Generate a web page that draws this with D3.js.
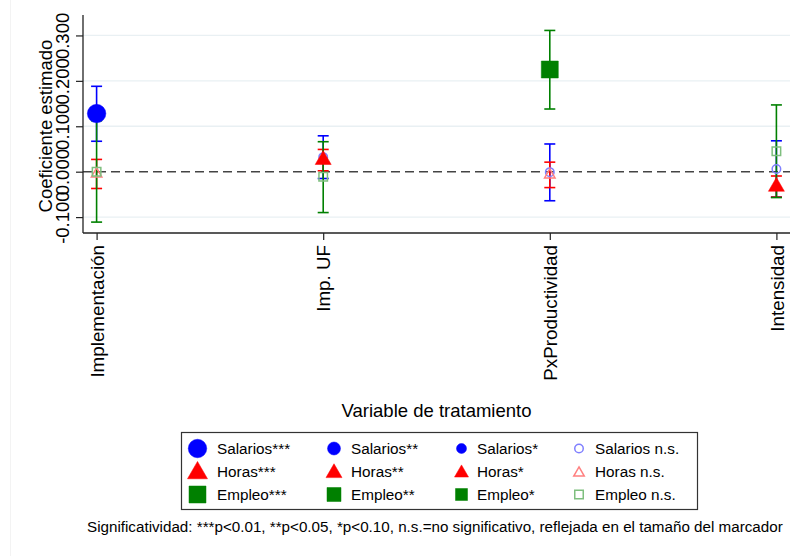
<!DOCTYPE html>
<html>
<head>
<meta charset="utf-8">
<script src="https://cdn.jsdelivr.net/npm/d3@7"></script>
<style>
  html, body { margin: 0; padding: 0; background: #fff; }
  svg { display: block; }
  text { font-family: "Liberation Sans", Arial, Helvetica, sans-serif; fill: #000; }
</style>
</head>
<body>
<svg id="chart" width="796" height="556"></svg>
<script>
// ---- data ----
const categories = ["Implementación", "Imp. UF", "PxProductividad", "Intensidad"];
const yTicks = [-0.1, 0.0, 0.1, 0.2, 0.3];
const yTickLabels = ["-0.100", "0.000", "0.100", "0.200", "0.300"];

const salariosCoef = [0.128, 0.032, -0.001, 0.006];
const salariosLo   = [0.067, -0.015, -0.064, -0.056];
const salariosHi   = [0.188, 0.079, 0.061, 0.068];
const salariosSig  = ["***", "n.s.", "n.s.", "n.s."];

const horasCoef = [-0.005, 0.026, -0.007, -0.033];
const horasLo   = [-0.037, 0.002, -0.035, -0.056];
const horasHi   = [0.027, 0.049, 0.021, -0.0095];
const horasSig  = ["n.s.", "**", "n.s.", "**"];

const empleoCoef = [0.000, -0.011, 0.225, 0.045];
const empleoLo   = [-0.111, -0.090, 0.138, -0.057];
const empleoHi   = [0.112, 0.066, 0.311, 0.147];
const empleoSig  = ["n.s.", "n.s.", "***", "n.s."];

const sigLevels = ["***", "**", "*", "n.s."];
const seriesNames = ["Salarios", "Horas", "Empleo"];
const xTitle = "Variable de tratamiento";
const yTitle = "Coeficiente estimado";
const note = "Significatividad: ***p<0.01, **p<0.05, *p<0.10, n.s.=no significativo, reflejada en el tamaño del marcador";

// ---- styles ----
const colors = { Salarios: "#0000ff", Horas: "#ff0000", Empleo: "#008000" };
const lightColors = { Salarios: "#8080ff", Horas: "#ff8080", Empleo: "#7fbf7f" };
const shapes = { Salarios: "circle", Horas: "triangle", Empleo: "square" };
const sizeBySig = {
  circle:   { "***": 18.5, "**": 13, "*": 10, "n.s.": 10 },
  triangle: { "***": 20, "**": 16, "*": 14, "n.s.": 12 },
  square:   { "***": 17, "**": 14, "*": 12, "n.s.": 10 }
};

const series = [
  { name: "Salarios", coef: salariosCoef, lo: salariosLo, hi: salariosHi, sig: salariosSig },
  { name: "Horas",    coef: horasCoef,    lo: horasLo,    hi: horasHi,    sig: horasSig },
  { name: "Empleo",   coef: empleoCoef,   lo: empleoLo,   hi: empleoHi,   sig: empleoSig }
];

const svg = d3.select("#chart");

svg.append("line").attr("x1", 10.5).attr("x2", 10.5).attr("y1", 0).attr("y2", 556)
  .attr("stroke", "#f3f3f3").attr("stroke-width", 1);

const plot = { left: 83, right: 790, top: 15, bottom: 233 };
const x = d3.scaleLinear().domain([0.94, 4.06]).range([plot.left, plot.right]);
const y = d3.scaleLinear().domain([-0.135, 0.345]).range([plot.bottom, plot.top]);

// gridlines
svg.append("g").selectAll("line").data(yTicks.filter(v => v !== 0)).join("line")
  .attr("x1", plot.left).attr("x2", plot.right)
  .attr("y1", d => y(d)).attr("y2", d => y(d))
  .attr("stroke", "#e9f0f3").attr("stroke-width", 1.3);

// zero reference line
svg.append("line")
  .attr("x1", plot.left).attr("x2", plot.right)
  .attr("y1", y(0)).attr("y2", y(0))
  .attr("stroke", "#444").attr("stroke-width", 1.4)
  .attr("stroke-dasharray", "9,5");

// Y axis
const yAxis = svg.append("g").attr("transform", `translate(${plot.left},0)`)
  .call(d3.axisLeft(y).tickValues(yTicks).tickSize(7).tickFormat((d, i) => yTickLabels[i]));
yAxis.select(".domain").attr("d", `M0,${plot.top}V${plot.bottom}`).attr("stroke", "#222").attr("stroke-width", 1.3);
yAxis.selectAll(".tick line").attr("stroke", "#222").attr("stroke-width", 1.2);
yAxis.selectAll(".tick text")
  .attr("x", null).attr("dy", null)
  .attr("transform", "translate(-14.5,0) rotate(-90)")
  .attr("text-anchor", "middle")
  .style("font-size", "18.5px")
  .attr("fill", "#000");
yAxis.attr("font-family", null).attr("font-size", null);

// X axis
const xAxis = svg.append("g").attr("transform", `translate(0,${plot.bottom})`)
  .call(d3.axisBottom(x).tickValues([1, 2, 3, 4]).tickSize(7).tickFormat(d => categories[d - 1]));
xAxis.select(".domain").attr("d", `M${plot.left},0H${plot.right}`).attr("stroke", "#222").attr("stroke-width", 1.3);
xAxis.selectAll(".tick line").attr("stroke", "#222").attr("stroke-width", 1.2);
xAxis.selectAll(".tick text")
  .attr("y", null).attr("dy", null)
  .attr("transform", "translate(6.6,12) rotate(-90)")
  .attr("text-anchor", "end")
  .style("font-size", "18.8px")
  .attr("fill", "#000");
xAxis.attr("font-family", null).attr("font-size", null);

// axis titles
svg.append("text").attr("transform", "translate(52,126) rotate(-90)")
  .attr("text-anchor", "middle").style("font-size", "18.5px").text(yTitle);
svg.append("text").attr("x", (plot.left + plot.right) / 2).attr("y", 417)
  .attr("text-anchor", "middle").style("font-size", "18.5px").text(xTitle);

function markerPath(shape, w) {
  if (shape === "circle") {
    const r = w / 2;
    return `M${-r},0A${r},${r} 0 1,0 ${r},0A${r},${r} 0 1,0 ${-r},0Z`;
  }
  if (shape === "square") {
    const h = w / 2;
    return `M${-h},${-h}H${h}V${h}H${-h}Z`;
  }
  const hgt = w * Math.sqrt(3) / 2;
  return `M0,${-2 * hgt / 3}L${w / 2},${hgt / 3}L${-w / 2},${hgt / 3}Z`;
}
function drawMarker(g, shape, sig, color, light, cx, cy) {
  const w = sizeBySig[shape][sig];
  const ns = sig === "n.s.";
  g.append("path")
    .attr("transform", `translate(${cx},${cy})`)
    .attr("d", markerPath(shape, ns ? w - 1.5 : w))
    .attr("fill", ns ? "none" : color)
    .attr("stroke", ns ? light : color)
    .attr("stroke-width", ns ? 1.5 : 0.5);
}

// confidence intervals
const capW = 11;
const ciG = svg.append("g");
series.forEach(s => {
  const g = ciG.append("g");
  categories.forEach((c, i) => {
    const cx = x(i + 1);
    g.append("line").attr("x1", cx).attr("x2", cx).attr("y1", y(s.lo[i])).attr("y2", y(s.hi[i]))
      .attr("stroke", colors[s.name]).attr("stroke-width", 1.6);
    [s.lo[i], s.hi[i]].forEach(v => {
      g.append("line").attr("x1", cx - capW / 2).attr("x2", cx + capW / 2)
        .attr("y1", y(v)).attr("y2", y(v))
        .attr("stroke", colors[s.name]).attr("stroke-width", 1.6);
    });
  });
});

// markers
const mG = svg.append("g");
series.forEach(s => {
  categories.forEach((c, i) => {
    drawMarker(mG, shapes[s.name], s.sig[i], colors[s.name], lightColors[s.name], x(i + 1), y(s.coef[i]));
  });
});

// legend
const legend = svg.append("g");
legend.append("rect").attr("x", 181.5).attr("y", 432.5).attr("width", 516).attr("height", 77)
  .attr("fill", "#fff").attr("stroke", "#333").attr("stroke-width", 1.2);
const colSym = [197.5, 334, 461.5, 579];
const colText = [217, 351, 477, 595];
const rowY = [448.5, 471.5, 494.5];
seriesNames.forEach((name, r) => {
  sigLevels.forEach((sig, c) => {
    drawMarker(legend, shapes[name], sig, colors[name], lightColors[name], colSym[c],
      rowY[r] + (shapes[name] === "triangle" ? 1.5 : 0));
    legend.append("text").attr("x", colText[c]).attr("y", rowY[r] + 5.5)
      .style("font-size", "15.3px")
      .text(name + (sig === "n.s." ? " n.s." : sig));
  });
});

// note
svg.append("text").attr("x", 87).attr("y", 532).style("font-size", "15.2px").text(note);
</script>
</body>
</html>
